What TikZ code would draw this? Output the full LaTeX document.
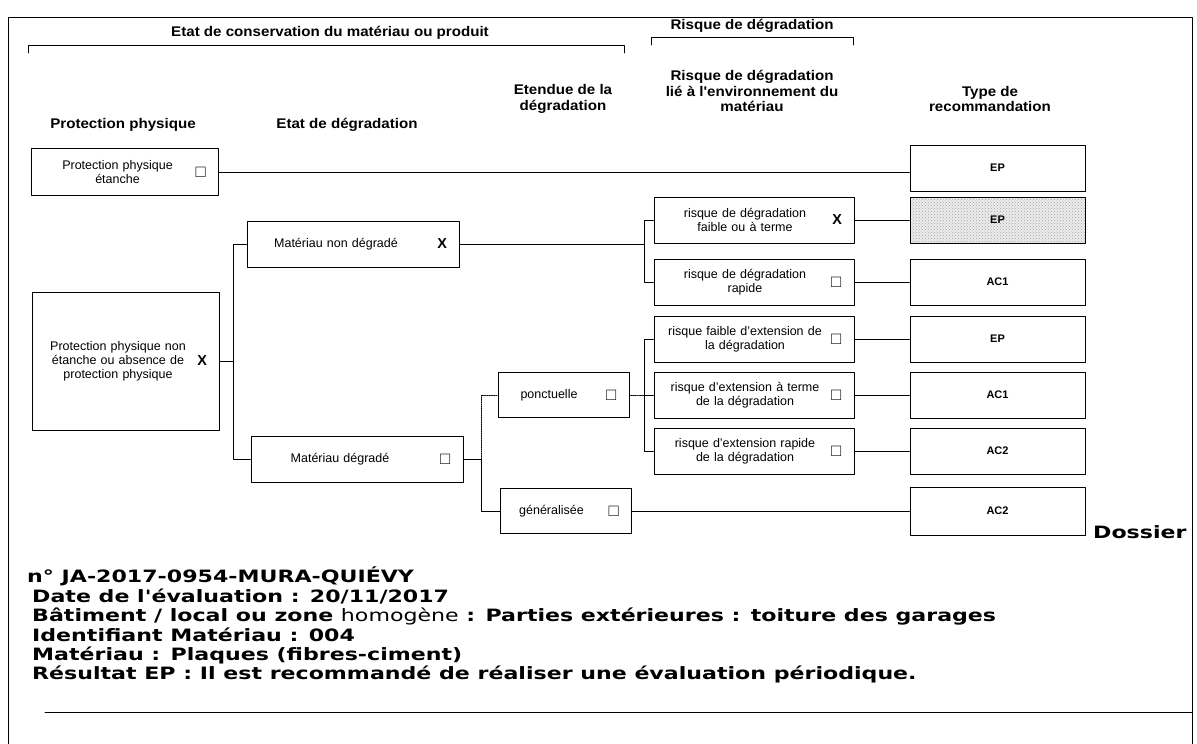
\documentclass[tikz,border=0pt]{standalone}
\usepackage{fontspec}
\usepackage{amssymb}
\setmainfont{Liberation Sans}
\newfontfamily\largefont[FakeStretch=1.08]{Liberation Sans}
\newfontfamily\dossierfont[FakeStretch=1.3]{DejaVu Sans}
\usetikzlibrary{patterns}

% texte centre a gauche, case a cocher a droite
\newcommand{\champ}[3]{\noindent\parbox[c]{#1}{\centering #2}\hfill$\vcenter{\hbox{#3}}$}
\newcommand{\vide}{{\fontsize{15}{15}\selectfont$\square$}}
\newcommand{\coche}{\textbf{\Large X}}

\tikzset{
  boite/.style={draw, line width=1pt, inner xsep=12pt, inner ysep=2pt, font=\fontsize{12.5}{14}\selectfont},
  colprot/.style={boite, text width=163pt, minimum height=47pt},
  coletat/.style={boite, text width=188pt, minimum height=46pt},
  colext/.style={boite, text width=107pt, minimum height=45pt},
  colrisq/.style={boite, text width=176pt, minimum height=46pt},
  reco/.style={draw, line width=1pt, minimum width=175pt, minimum height=46pt, font=\bfseries\fontsize{11}{13}\selectfont},
  titre/.style={font=\largefont\bfseries\fontsize{14}{15.5}\selectfont, align=center, inner sep=0pt},
  lien/.style={line width=0.8pt},
}

\begin{document}
\begin{tikzpicture}[x=1pt, y=-1pt, line join=round, line cap=round]
  \useasboundingbox (0,0) rectangle (1197,744);
  \def\xreco{997.5} \def\xrisq{754}
  % cadre
  \draw[line width=1pt] (8,744) -- (8,17) -- (1192,17) -- (1192,744);
  \draw[line width=1pt] (45,712) -- (1192,712);

  % en-tetes
  \node[titre] (hconserv) at (330,33) {Etat de conservation du matériau ou produit};
  \draw[lien] (28,53) -- (28,45) -- (624,45) -- (624,53);
  \node[titre] (hrisque) at (752,26) {Risque de dégradation};
  \draw[lien] (651,45) -- (651,37) -- (853,37) -- (853,45);
  \node[titre] (hprot) at (123,125) {Protection physique};
  \node[titre] (hetat) at (347,125) {Etat de dégradation};
  \node[titre] (hetendue) at (563,99) {Etendue de la\\dégradation};
  \node[titre] (hrisqenv) at (752,91) {Risque de dégradation\\lié à l'environnement du\\matériau};
  \node[titre] (hreco) at (990,99) {Type de\\recommandation};

  % protection physique
  \node[colprot] (prot1) at (125,172) {\champ{148pt}{Protection physique\\étanche}{\vide}};
  \node[colprot, minimum height=138pt] (prot2) at (125.5,361) {\champ{148pt}{Protection physique non\\étanche ou absence de\\protection physique}{\coche}};

  % etat de degradation
  \node[coletat] (etat1) at (353,244) {\champ{154pt}{Matériau non dégradé}{\coche}};
  \node[coletat] (etat2) at (357,459) {\champ{154pt}{Matériau dégradé}{\vide}};

  % etendue
  \node[colext] (ext1) at (563.5,395) {\champ{78pt}{ponctuelle}{\vide}};
  \node[colext] (ext2) at (566,511) {\champ{78pt}{généralisée}{\vide}};

  % risque
  \node[colrisq] (risq1) at (\xrisq,220) {\champ{158pt}{risque de dégradation\\faible ou à terme}{\coche}};
  \node[colrisq] (risq2) at (\xrisq,282) {\champ{158pt}{risque de dégradation\\rapide}{\vide}};
  \node[colrisq] (risq3) at (\xrisq,339) {\champ{158pt}{risque faible d'extension de\\la dégradation}{\vide}};
  \node[colrisq] (risq4) at (\xrisq,395) {\champ{158pt}{risque d'extension à terme\\de la dégradation}{\vide}};
  \node[colrisq] (risq5) at (\xrisq,451) {\champ{158pt}{risque d'extension rapide\\de la dégradation}{\vide}};

  % recommandations
  \node[reco] (reco1) at (\xreco,168) {EP};
  \node[reco, preaction={fill=gray!15}, pattern=crosshatch dots, pattern color=gray!70] (reco2) at (\xreco,220) {EP};
  \node[reco] (reco3) at (\xreco,282) {AC1};
  \node[reco] (reco4) at (\xreco,339) {EP};
  \node[reco] (reco5) at (\xreco,395) {AC1};
  \node[reco] (reco6) at (\xreco,451) {AC2};
  \node[reco, minimum height=48pt] (reco7) at (\xreco,511) {AC2};

  % liaisons
  \coordinate (t1) at (233,361);
  \coordinate (t2) at (481,459);
  \coordinate (t3) at (644,244);
  \coordinate (t4) at (644,395);
  \draw[lien] (prot1.east) -- (prot1.east -| reco1.west);
  \draw[lien] (prot2.east) -- (t1) |- (etat1.west);
  \draw[lien] (t1) |- (etat2.west);
  \draw[lien] (etat1.east) -- (t3) |- (risq1.west);
  \draw[lien] (t3) |- (risq2.west);
  \draw[lien] (etat2.east) -- (t2) |- (ext2.west);
  \draw[lien, densely dotted] (t2) |- (ext1.west);
  \draw[lien, densely dotted] (ext1.east) -- (t4);
  \draw[lien] (t4) |- (risq3.west);
  \draw[lien] (t4) -- (risq4.west);
  \draw[lien] (t4) |- (risq5.west);
  \foreach \i/\j in {1/2,2/3,3/4,4/5,5/6}
    \draw[lien] (risq\i.east) -- (reco\j.west);
  \draw[lien] (ext2.east) -- (reco7.west);

  % dossier
  \node[anchor=west, inner sep=0pt, font=\dossierfont\bfseries\fontsize{17}{19.4}\selectfont] (dossier) at (1093,532) {Dossier};
  \node[anchor=north west, inner sep=0pt, align=left, font=\dossierfont\bfseries\fontsize{17}{19.4}\selectfont] (infos) at (27,567)
    {n° JA-2017-0954-MURA-QUIÉVY\\
     \hspace*{5pt}Date de l'évaluation : 20/11/2017\\
     \hspace*{5pt}Bâtiment / local ou zone {\mdseries homogène} : Parties extérieures : toiture des garages\\
     \hspace*{5pt}Identifiant Matériau : 004\\
     \hspace*{5pt}Matériau : Plaques (fibres-ciment)\\
     \hspace*{5pt}Résultat EP : Il est recommandé de réaliser une évaluation périodique.};
\end{tikzpicture}
\end{document}
